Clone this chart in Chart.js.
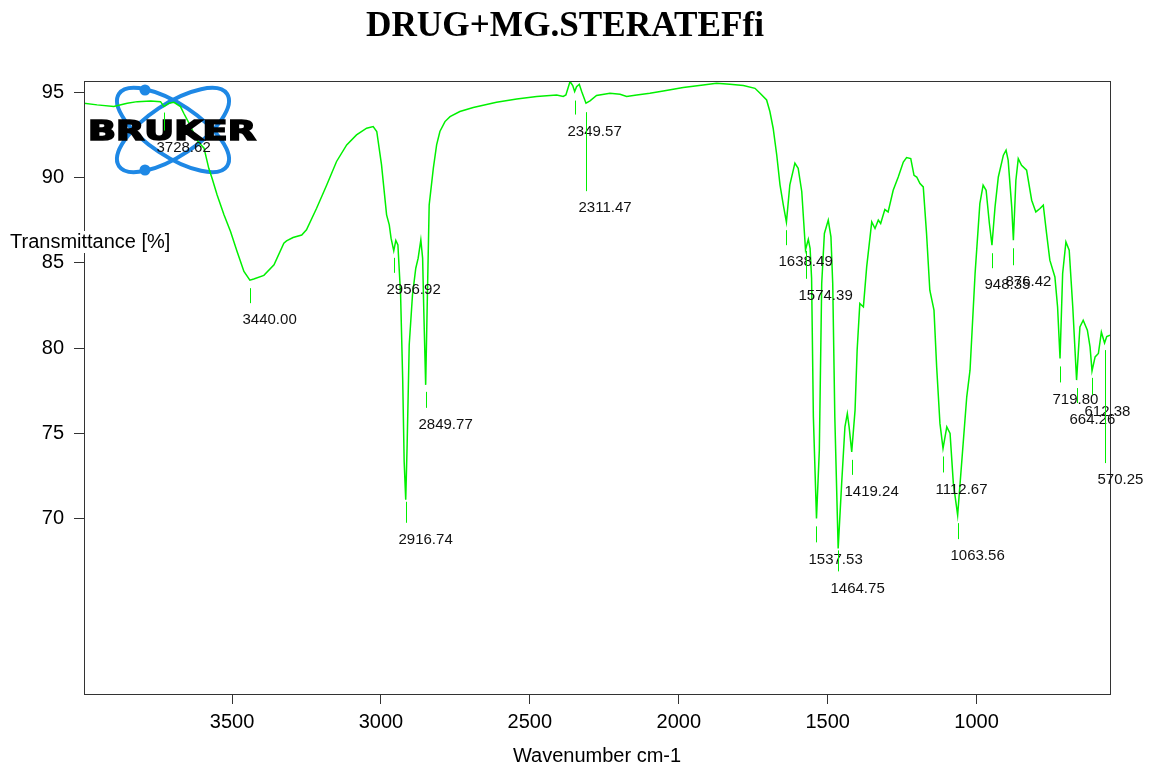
<!DOCTYPE html>
<html>
<head>
<meta charset="utf-8">
<script src="https://cdn.jsdelivr.net/npm/chart.js@4.4.1/dist/chart.umd.min.js"></script>
<style>
  html, body { margin: 0; padding: 0; background: #ffffff; }
  #wrap { width: 1150px; height: 769px; }
</style>
</head>
<body>
<div id="wrap"><canvas id="spectrum" width="1150" height="769"></canvas></div>
<script>
// FTIR spectrum, wavenumber (cm-1) vs transmittance (%)
const wavenumbers = [
  3997, 3953, 3897, 3852, 3818, 3773, 3740, 3728.62, 3712, 3695,
  3673, 3662, 3641, 3618, 3594, 3578, 3567, 3550, 3527, 3505,
  3483, 3460, 3440.00, 3427, 3393, 3359, 3326, 3317, 3295, 3266,
  3250, 3216, 3182, 3149, 3115, 3082, 3048, 3026, 3014, 2998,
  2981, 2972, 2966, 2956.92, 2950, 2943, 2934, 2927, 2922, 2916.74,
  2912, 2905, 2894, 2883, 2875, 2866, 2860, 2856, 2849.77, 2845,
  2838, 2824, 2813, 2802, 2785, 2768, 2735, 2690, 2612, 2544,
  2477, 2410, 2388, 2379, 2365, 2356, 2349.57, 2343, 2334, 2326,
  2311.47, 2298, 2276, 2231, 2197, 2175, 2141, 2097, 2052, 1985,
  1918, 1873, 1828, 1783, 1744, 1727, 1705, 1694, 1683, 1671,
  1660, 1649, 1638.49, 1627, 1610, 1599, 1587, 1574.39, 1565, 1559,
  1554, 1548, 1537.53, 1528, 1520, 1511, 1498, 1489, 1483, 1476,
  1464.75, 1453, 1442, 1434, 1428, 1419.24, 1408, 1401, 1392, 1380,
  1369, 1352, 1341, 1330, 1322, 1308, 1297, 1280, 1263, 1246,
  1235, 1221, 1210, 1201, 1190, 1179, 1168, 1157, 1143, 1134,
  1123, 1112.67, 1100, 1089, 1078, 1063.56, 1033, 1022, 1005, 989,
  978, 968, 957, 948.35, 938, 927, 910, 901, 894, 882,
  876.42, 868, 860, 849, 832, 815, 801, 787, 776, 765,
  754, 737, 728, 719.80, 711, 700, 689, 677, 664.26, 653,
  642, 628, 619, 612.38, 602, 591, 581, 570.25, 563, 552
];
const transmittance = [
  94.36, 94.26, 94.16, 94.36, 94.45, 94.49, 94.45, 94.16, 94.36, 94.41,
  94.16, 93.77, 93.07, 92.19, 91.72, 90.54, 89.96, 88.98, 87.81, 86.83,
  85.66, 84.49, 83.98, 84.05, 84.26, 84.88, 86.15, 86.28, 86.48, 86.63,
  86.93, 88.20, 89.56, 90.94, 91.91, 92.50, 92.89, 92.99, 92.70, 90.74,
  87.81, 87.22, 86.44, 85.70, 86.31, 86.05, 83.12, 78.24, 73.35, 71.10,
  74.32, 80.19, 83.12, 84.68, 85.27, 86.34, 85.27, 82.14, 77.84, 82.14,
  88.39, 90.55, 91.91, 92.70, 93.28, 93.57, 93.87, 94.10, 94.41, 94.61,
  94.75, 94.84, 94.75, 94.84, 95.63, 95.39, 95.04, 95.33, 95.47, 95.04,
  94.36, 94.49, 94.81, 94.94, 94.88, 94.75, 94.84, 94.94, 95.08, 95.28,
  95.43, 95.53, 95.47, 95.39, 95.23, 94.94, 94.55, 93.87, 92.89, 91.32,
  89.57, 88.39, 87.38, 89.57, 90.84, 90.54, 89.18, 85.76, 86.38, 85.85,
  84.10, 75.97, 70.01, 74.01, 83.79, 86.72, 87.50, 86.52, 83.79, 75.97,
  68.25, 72.06, 75.38, 76.16, 75.38, 73.91, 76.36, 79.88, 82.61, 82.41,
  84.76, 87.40, 87.01, 87.50, 87.30, 88.12, 87.98, 89.25, 90.03, 90.91,
  91.17, 91.11, 90.13, 90.03, 89.65, 89.45, 86.72, 83.39, 82.22, 78.89,
  75.58, 74.11, 75.38, 74.99, 72.06, 70.20, 77.14, 78.70, 84.37, 88.47,
  89.55, 89.25, 87.30, 86.03, 88.28, 90.03, 91.31, 91.60, 91.02, 88.28,
  86.32, 89.84, 91.11, 90.72, 90.43, 88.67, 87.98, 88.18, 88.38, 86.72,
  85.15, 84.17, 82.41, 79.39, 84.37, 86.22, 85.74, 82.41, 78.12, 81.24,
  81.63, 81.05, 80.07, 78.66, 79.48, 79.68, 80.93, 80.29, 80.67, 80.75
];

// Picked absorption bands (cm-1)
const peakWavenumbers = [
  3728.62, 3440.00, 2956.92, 2916.74, 2849.77, 2349.57, 2311.47,
  1638.49, 1574.39, 1537.53, 1464.75, 1419.24, 1112.67, 1063.56,
  948.35, 876.42, 719.80, 664.26, 612.38, 570.25
];

const xTickValues = [3500, 3000, 2500, 2000, 1500, 1000];
const yTickValues = [70, 75, 80, 85, 90, 95];

const chartTitle = 'DRUG+MG.STERATEFfi';
const xAxisTitle = 'Wavenumber cm-1';
const yAxisTitle = 'Transmittance [%]';
const logoText = 'BRUKER';

// Marker drop below each band minimum: [gap, length] in px
const peakMarkerLayout = [
  [6, 18], [8, 15], [7, 15], [2, 21], [7, 16], [9, 14], [9, 79],
  [8, 15], [1, 28], [8, 16], [2, 21], [8, 15], [8, 16], [8, 16],
  [8, 15], [8, 17], [8, 16], [8, 15], [7, 17], [7, 113]
];

const GREEN = '#00f000';
const AXIS = '#333333';
const FONT = "'Liberation Sans', Arial, Helvetica, sans-serif";

const points = wavenumbers.map((w, i) => ({ x: w, y: transmittance[i] }));

function valueAt(wn) {
  const i = wavenumbers.indexOf(wn);
  return transmittance[i];
}

const decorations = {
  id: 'decorations',
  beforeDatasetsDraw(chart) {
    // Bruker emblem orbits
    const c = chart.ctx;
    c.save();
    c.strokeStyle = '#1e88e5';
    c.fillStyle = '#1e88e5';
    c.lineWidth = 4;
    const cx = 173, cy = 130, a = 65, b = 26, ang = 33.7 * Math.PI / 180;
    [ang, -ang].forEach(r => {
      c.beginPath();
      c.ellipse(cx, cy, a, b, r, 0, Math.PI * 2);
      c.stroke();
    });
    [[145, 90], [145, 170]].forEach(([px, py]) => {
      c.beginPath();
      c.arc(px, py, 5.5, 0, Math.PI * 2);
      c.fill();
    });
    c.restore();
  },
  afterDatasetsDraw(chart) {
    const c = chart.ctx;
    const area = chart.chartArea;
    const xs = chart.scales.x, ys = chart.scales.y;

    // frame
    c.save();
    c.strokeStyle = AXIS;
    c.lineWidth = 1;
    c.strokeRect(Math.round(area.left) + 0.5, Math.round(area.top) + 0.5,
      Math.round(area.right - area.left), Math.round(area.bottom - area.top));
    c.restore();

    // emblem lettering
    c.save();
    c.font = "bold 26px 'DejaVu Sans', sans-serif";
    c.fillStyle = '#000000';
    c.strokeStyle = '#000000';
    c.lineWidth = 1.6;
    c.lineJoin = 'miter';
    c.textBaseline = 'alphabetic';
    const w = c.measureText(logoText).width;
    c.translate(88, 139.5);
    c.scale(168 / w, 1);
    c.fillText(logoText, 0, 0);
    c.strokeText(logoText, 0, 0);
    c.restore();

    // band markers and labels
    c.save();
    c.font = '15px ' + FONT;
    c.fillStyle = '#111111';
    c.textBaseline = 'middle';
    c.textAlign = 'left';
    c.strokeStyle = GREEN;
    c.lineWidth = 1;
    peakWavenumbers.forEach((wn, i) => {
      const px = Math.round(xs.getPixelForValue(wn)) + 0.5;
      const py = ys.getPixelForValue(valueAt(wn));
      const [gap, len] = peakMarkerLayout[i];
      const y1 = py + gap, y2 = y1 + len;
      c.beginPath();
      c.moveTo(px, y1);
      c.lineTo(px, y2);
      c.stroke();
      c.fillText(wn.toFixed(2), px - 8, y2 + 17);
    });
    c.restore();

    // y-axis caption on a white backing
    c.save();
    c.font = '20px ' + FONT;
    const tw = c.measureText(yAxisTitle).width;
    c.fillStyle = '#ffffff';
    c.fillRect(8, 231, tw + 4, 22);
    c.fillStyle = '#000000';
    c.textBaseline = 'middle';
    c.textAlign = 'left';
    c.fillText(yAxisTitle, 10, 242);
    c.restore();
  },
  afterDraw(chart) {
    const c = chart.ctx;
    c.save();
    c.font = "bold 35px 'Liberation Serif', 'Times New Roman', serif";
    c.fillStyle = '#000000';
    c.textBaseline = 'alphabetic';
    const w = c.measureText(chartTitle).width;
    c.translate(565 - 199, 36);
    c.scale(398 / w, 1);
    c.fillText(chartTitle, 0, 0);
    c.restore();
  }
};

new Chart(document.getElementById('spectrum'), {
  type: 'line',
  data: {
    datasets: [{
      data: points,
      borderColor: GREEN,
      borderWidth: 1.5,
      pointRadius: 0,
      tension: 0,
      fill: false
    }]
  },
  options: {
    responsive: false,
    animation: false,
    devicePixelRatio: 1,
    layout: { padding: { top: 81, right: 40, left: 0, bottom: 0 } },
    plugins: {
      legend: { display: false },
      title: { display: false },
      tooltip: { enabled: false }
    },
    scales: {
      x: {
        type: 'linear',
        reverse: true,
        min: 552,
        max: 3997,
        afterBuildTicks: s => { s.ticks = xTickValues.map(v => ({ value: v })); },
        afterFit: s => { s.height = 75; },
        ticks: {
          color: '#000000',
          font: { family: FONT, size: 20 },
          padding: 6,
          maxRotation: 0,
          autoSkip: false,
          callback: v => String(v)
        },
        grid: { drawOnChartArea: false, drawTicks: true, tickLength: 10, color: AXIS, lineWidth: 1 },
        border: { display: true, color: AXIS, width: 1 },
        title: {
          display: true,
          text: xAxisTitle,
          color: '#000000',
          font: { family: FONT, size: 20 },
          padding: { top: 0, bottom: 1 }
        }
      },
      y: {
        type: 'linear',
        min: 59.71,
        max: 95.66,
        afterBuildTicks: s => { s.ticks = yTickValues.map(v => ({ value: v })); },
        afterFit: s => { s.width = 84; },
        ticks: {
          color: '#000000',
          font: { family: FONT, size: 20 },
          padding: 10,
          autoSkip: false,
          callback: v => String(v)
        },
        grid: { drawOnChartArea: false, drawTicks: true, tickLength: 10, color: AXIS, lineWidth: 1 },
        border: { display: true, color: AXIS, width: 1 }
      }
    }
  },
  plugins: [decorations]
});
</script>
</body>
</html>
